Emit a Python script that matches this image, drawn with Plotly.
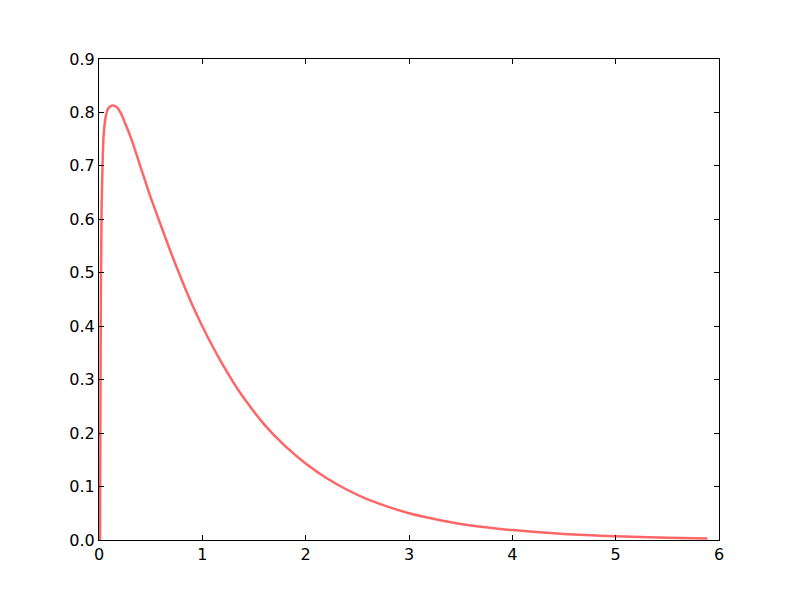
import plotly.graph_objects as go

x_vals = [0.010, 0.014, 0.018, 0.025, 0.032, 0.045, 0.068, 0.090, 0.129, 0.170,
          0.210, 0.250, 0.300, 0.350, 0.400, 0.450, 0.500, 0.600, 0.700, 0.800,
          0.900, 1.000, 1.100, 1.200, 1.300, 1.400, 1.600, 1.800, 2.000, 2.200,
          2.400, 2.600, 2.800, 3.000, 3.300, 3.600, 4.000, 4.500, 5.000, 5.500,
          5.887]
y_vals = [0.000, 0.250, 0.450, 0.620, 0.683, 0.758, 0.795, 0.808, 0.813, 0.810,
          0.799, 0.781, 0.757, 0.729, 0.699, 0.670, 0.641, 0.588, 0.536, 0.487,
          0.441, 0.400, 0.362, 0.327, 0.295, 0.266, 0.216, 0.176, 0.143, 0.116,
          0.094, 0.076, 0.062, 0.050, 0.037, 0.027, 0.0185, 0.0112, 0.0070, 0.0043,
          0.0030]

x_ticks = [0, 1, 2, 3, 4, 5, 6]
y_ticks = [0.0, 0.1, 0.2, 0.3, 0.4, 0.5, 0.6, 0.7, 0.8, 0.9]

fig = go.Figure()
fig.add_trace(go.Scatter(x=x_vals, y=y_vals, mode="lines",
                         line=dict(color="#ff6666", width=2.5, shape="spline", smoothing=0.8),
                         showlegend=False, hoverinfo="skip"))

axis_common = dict(showgrid=False, zeroline=False, showline=True, linecolor="black",
                   linewidth=1, mirror="allticks", ticks="inside", ticklen=5,
                   tickcolor="black", tickwidth=1,
                   tickfont=dict(family="DejaVu Sans", size=16, color="black"))

fig.update_layout(
    width=792, height=592,
    paper_bgcolor="white", plot_bgcolor="white",
    margin=dict(l=91, r=81, t=51, b=60),
    xaxis=dict(range=[0, 6], tickvals=x_ticks, ticktext=[str(v) for v in x_ticks], **axis_common),
    yaxis=dict(range=[0, 0.9], tickvals=y_ticks, ticktext=[f"{v:.1f}" for v in y_ticks], **axis_common),
)

fig.write_html("out.html")
